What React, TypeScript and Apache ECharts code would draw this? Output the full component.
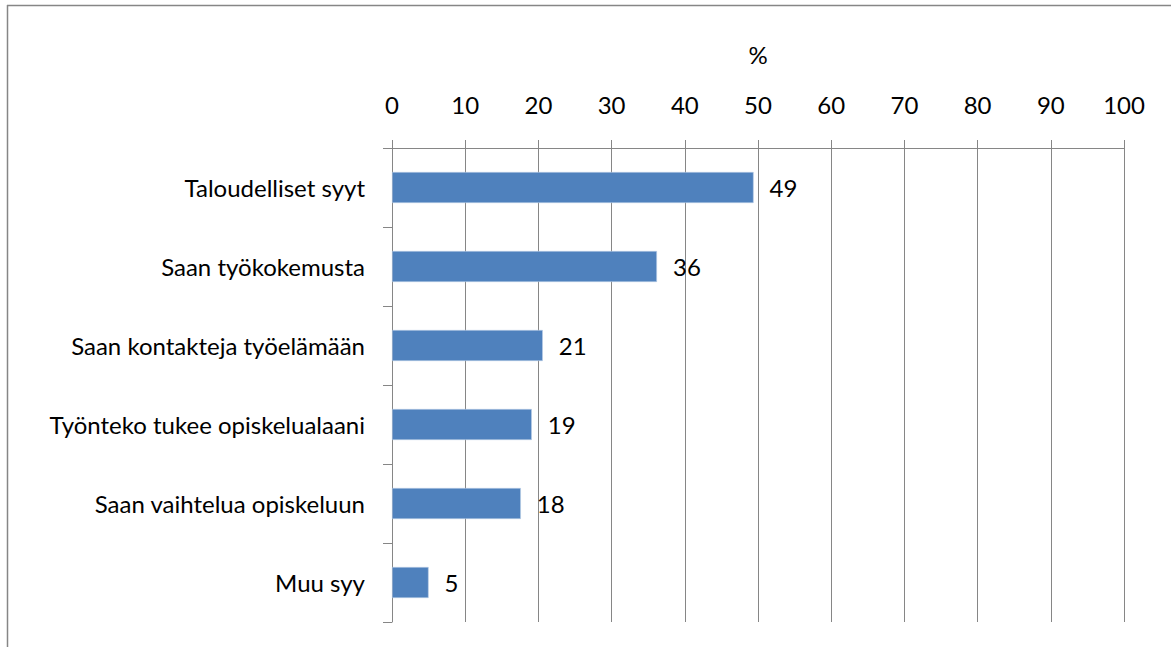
import React, { useEffect, useRef } from "react";
import * as echarts from "echarts";

const categories = [
  "Taloudelliset syyt",
  "Saan työkokemusta",
  "Saan kontakteja työelämään",
  "Työnteko tukee opiskelualaani",
  "Saan vaihtelua opiskeluun",
  "Muu syy",
];
const values = [49.4, 36.2, 20.6, 19.1, 17.6, 5.0];
const axisName = "%";

const FONT = "Lato";
const GRAY = "#868686";

export default function App() {
  const ref = useRef<HTMLDivElement>(null);
  useEffect(() => {
    document.body.style.margin = "0";
    const chart = echarts.init(ref.current!, null, { renderer: "svg" });
    chart.setOption({
      animation: false,
      backgroundColor: "#ffffff",
      textStyle: { fontFamily: FONT },
      grid: { left: 392, top: 148, right: 47, bottom: 25, containLabel: false },
      xAxis: {
        type: "value",
        position: "top",
        min: 0,
        max: 100,
        interval: 10,
        name: axisName,
        nameLocation: "middle",
        nameGap: 82,
        nameTextStyle: { fontFamily: FONT, fontSize: 24, color: "#000" },
        axisLine: { show: true, lineStyle: { color: GRAY, width: 1 } },
        axisTick: { show: true, length: 8, lineStyle: { color: GRAY, width: 1 } },
        axisLabel: { fontFamily: FONT, fontSize: 24, color: "#000", margin: 32 },
        splitLine: { show: true, lineStyle: { color: GRAY, width: 1 } },
      },
      yAxis: {
        type: "category",
        data: categories,
        inverse: true,
        axisLine: { show: true, lineStyle: { color: GRAY, width: 1 } },
        axisTick: { show: true, length: 9, lineStyle: { color: GRAY, width: 1 } },
        axisLabel: { fontFamily: FONT, fontSize: 24, color: "#000", margin: 27 },
        splitLine: { show: false },
      },
      series: [
        {
          type: "bar",
          data: values,
          barWidth: 31,
          itemStyle: { color: "#4F81BD", borderColor: "#b9cde5", borderWidth: 0.6 },
          label: {
            show: true,
            position: "right",
            distance: 16,
            fontFamily: FONT,
            fontSize: 24,
            color: "#000",
            formatter: (p: any) => String(Math.round(p.value)),
          },
        },
      ],
      graphic: [
        {
          type: "line",
          shape: { x1: 7, y1: 5.5, x2: 1171, y2: 5.5 },
          style: { stroke: GRAY, lineWidth: 1.5 },
        },
        {
          type: "line",
          shape: { x1: 7.5, y1: 5, x2: 7.5, y2: 647 },
          style: { stroke: GRAY, lineWidth: 1.5 },
        },
      ],
    });
    return () => chart.dispose();
  }, []);
  return <div ref={ref} style={{ width: 1171, height: 647, overflow: "hidden" }} />;
}
